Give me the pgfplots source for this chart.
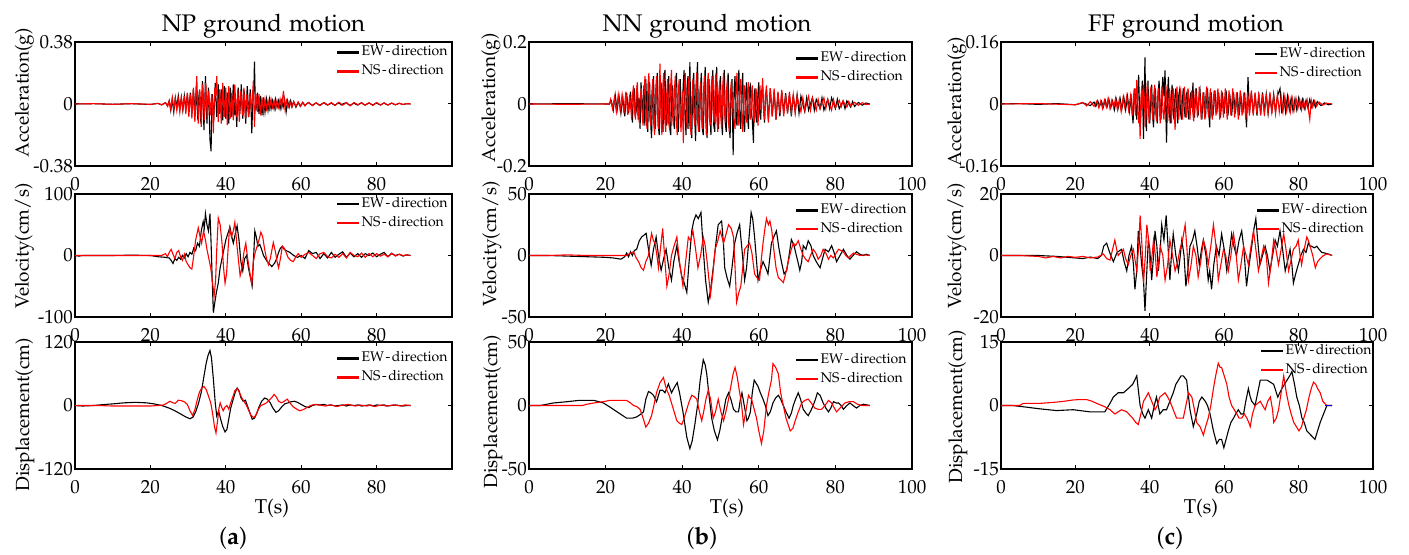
\documentclass[border=0pt]{standalone}
\usepackage[T1]{fontenc}
\usepackage[sc]{mathpazo}
\usepackage{pgfplots}
\pgfplotsset{compat=1.18}
\begin{document}
\begin{tikzpicture}
\useasboundingbox (0,0) rectangle (704.5pt,277.5pt);
\pgfplotsset{
  gm/.style={scale only axis, anchor=south west, xmin=0, xmax=100,
    axis line style={line width=0.6pt}, tick align=inside, major tick length=2.2pt,
    tick style={black, line width=0.5pt},
    ticklabel style={font=\fontsize{9.5}{11}\selectfont},
    xtick={0,20,40,60,80,100}, xticklabels={0,20,40,60,80,100},
    xticklabel style={yshift=-2.3pt}, yticklabel style={xshift=2.5pt},
    legend cell align=left,
    legend style={draw=none, fill=none, at={(rel axis cs:1,1)}, anchor=north east,
      font=\fontsize{7}{8}\selectfont, inner xsep=0pt, inner ysep=1pt, row sep=1.6pt,
      nodes={inner sep=0.6pt, text height=5pt, text depth=1.6pt}},
    legend image code/.code={\draw[##1, line width=1.2pt] (0pt,0pt) -- (11pt,0pt);},
    every axis plot/.append style={line width=0.55pt, mark=none}},
  cola/.style={gm, xtick={0,20,40,60,80}, xticklabels={0,20,40,60,80}, width=188.5pt, at={(37.5pt,#1)}},
  colb/.style={gm, width=191.5pt, at={(264.5pt,#1)}},
  colc/.style={gm, width=186pt, at={(500.5pt,#1)}},
  r1/.style={height=62pt}, r2/.style={height=61.5pt}, r3/.style={height=63.5pt},
  leg/.style 2 args={legend style={xshift=#1, yshift=#2}},
}
\def\EW{EW{\kern0.8pt}-{\kern0.8pt}direction}
\def\NS{NS{\kern0.8pt}-{\kern0.8pt}direction}
% ================= column a =================
\begin{axis}[cola=194.5pt, r1, ymin=-0.38, ymax=0.38, ytick={-0.38,0,0.38}, yticklabels={-0.38,0,0.38}, leg={-1.5pt}{-0.2pt}]
\addplot[black] coordinates {(0,0) (5,0.002) (10,-0.002) (15,0.002) (20,-0.003) (22,0.004) (23,-0.006) (24,0.008) (24.5,-0.01) (25,0.02) (25.4,-0.04) (25.8,0.03) (26.2,-0.05) (26.6,0.04) (27,-0.02) (27.4,0.05) (27.8,-0.03) (28.2,0.04) (28.6,-0.04) (29,0.05) (29.4,-0.03) (29.8,0.06) (30.2,-0.05) (30.4,0.01) (30.6,0.07) (30.8,0.02) (31,-0.06) (31.2,-0.01) (31.4,0.09) (31.6,0.03) (31.8,-0.08) (32,0.01) (32.2,0.12) (32.4,-0.02) (32.6,-0.10) (32.8,0.03) (33,0.08) (33.2,-0.03) (33.4,-0.12) (33.6,0.02) (33.8,0.14) (34,0.03) (34.2,-0.16) (34.4,-0.02) (34.6,0.17) (34.8,0.02) (35,-0.12) (35.2,0.01) (35.4,0.10) (35.6,-0.05) (35.8,-0.22) (36.1,-0.29) (36.25,-0.05) (36.4,0.06) (36.6,-0.02) (36.8,-0.10) (37,0.02) (37.2,0.13) (37.4,0.03) (37.6,-0.08) (37.8,0.01) (38,0.12) (38.2,-0.01) (38.4,-0.06) (38.6,0.02) (38.8,0.09) (39,-0.02) (39.2,-0.10) (39.4,0.01) (39.6,0.11) (39.8,0.02) (40,-0.09) (40.2,-0.02) (40.4,0.07) (40.6,-0.01) (40.8,-0.12) (41,0.02) (41.2,0.10) (41.4,0.01) (41.6,-0.08) (41.8,0.02) (42,0.12) (42.2,0.02) (42.4,-0.07) (42.65,0.02) (42.9,-0.14) (43.1,-0.01) (43.3,0.10) (43.5,0.02) (43.7,-0.06) (43.9,0.01) (44.1,0.12) (44.3,0.01) (44.5,-0.09) (44.7,-0.01) (44.9,0.08) (45.1,-0.02) (45.3,-0.12) (45.5,0.02) (45.7,0.11) (45.9,0.01) (46.1,-0.08) (46.3,0.01) (46.5,0.09) (46.7,-0.03) (46.9,-0.18) (47.1,-0.02) (47.3,0.05) (47.45,0.10) (47.6,0.26) (47.8,0.03) (48,-0.04) (48.4,0.07) (48.8,-0.06) (49.2,0.05) (49.6,-0.07) (50,0.04) (50.4,-0.05) (50.8,0.03) (51.2,-0.04) (51.6,0.03) (52,-0.03) (52.4,0.02) (52.8,-0.03) (53.2,0.03) (53.6,-0.02) (54,0.02) (54.4,-0.03) (54.8,0.02) (55.2,-0.02) (55.6,0.03) (56,-0.05) (56.4,0.02) (56.8,-0.02) (57.2,0.02) (57.6,-0.015) (58,0.015) (58.6,-0.02) (59.2,0.01) (59.8,-0.015) (60.4,0.01) (61,-0.01) (61.6,0.004) (62,0.008) (62.5,-0.003) (63,-0.008) (63.6,0.002) (64,0.006) (64.7,-0.004) (65,-0.007) (65.6,0.003) (66,0.008) (66.6,-0.002) (67,-0.006) (68,0.005) (68.5,-0.002) (69,-0.008) (69.6,0.004) (70,0.006) (70.7,-0.006) (71.2,0.002) (72,0.008) (72.6,-0.004) (73,-0.008) (74,0.006) (74.5,-0.002) (75,-0.006) (76,0.008) (76.6,-0.003) (77,-0.006) (78,0.006) (79,-0.006) (79.6,0.002) (80,0.005) (81,-0.006) (82,0.006) (82.5,-0.002) (83,-0.005) (84,0.005) (85,-0.005) (86,0.004) (87,-0.003) (88,0.002) (89,0)};
\addplot[red] coordinates {(0,0) (5,0.002) (10,-0.002) (15,0.002) (20,-0.002) (22,0.003) (23,-0.004) (24,0.008) (24.6,-0.015) (25,0.02) (25.4,-0.03) (25.8,0.04) (26.2,-0.03) (26.6,0.03) (27,-0.04) (27.4,0.03) (27.8,-0.05) (28.2,0.04) (28.6,-0.03) (29,0.05) (29.4,-0.06) (29.8,0.07) (30,0.01) (30.2,-0.08) (30.4,-0.01) (30.6,0.06) (30.8,0.01) (31,-0.09) (31.2,0.02) (31.4,0.10) (31.6,-0.02) (31.8,-0.11) (32.05,0.03) (32.3,0.17) (32.5,0.02) (32.7,-0.12) (32.9,-0.01) (33.1,0.09) (33.3,0.01) (33.5,-0.14) (33.7,-0.02) (33.9,0.12) (34.1,0.01) (34.3,-0.10) (34.5,0.02) (34.7,0.13) (34.9,0.01) (35.1,-0.09) (35.3,0.01) (35.5,0.08) (35.7,-0.01) (35.9,-0.07) (36.1,0.02) (36.3,0.06) (36.5,-0.03) (36.7,-0.18) (36.9,-0.02) (37.1,0.10) (37.35,0.05) (37.6,0.17) (37.8,0.02) (38,-0.11) (38.2,0.01) (38.4,0.09) (38.6,-0.01) (38.8,-0.12) (39,0.02) (39.2,0.13) (39.4,0.01) (39.6,-0.08) (39.8,0.02) (40,0.10) (40.2,-0.02) (40.4,-0.13) (40.6,0.01) (40.8,0.11) (41,0.02) (41.2,-0.09) (41.4,-0.01) (41.6,0.07) (41.8,-0.02) (42,-0.10) (42.2,0.03) (42.4,0.12) (42.6,0.01) (42.8,-0.08) (43,0.01) (43.2,0.09) (43.4,-0.02) (43.6,-0.11) (43.8,0.01) (44,0.08) (44.2,0.01) (44.4,-0.07) (44.6,0.02) (44.8,0.10) (45,-0.01) (45.2,-0.09) (45.4,0.01) (45.6,0.06) (45.8,-0.02) (46,-0.08) (46.2,0.01) (46.4,0.07) (46.6,0.01) (46.8,-0.05) (47.05,0.04) (47.3,0.14) (47.45,0.01) (47.6,-0.14) (47.8,-0.02) (48,0.06) (48.4,-0.05) (48.8,0.06) (49.2,-0.07) (49.6,0.04) (50,-0.05) (50.4,0.03) (50.8,-0.03) (51.2,0.02) (51.6,-0.03) (52,0.03) (52.4,-0.02) (52.8,0.02) (53.2,-0.03) (53.6,0.02) (54,-0.02) (54.4,0.03) (54.8,-0.02) (55.3,0.08) (55.7,-0.03) (56.1,0.02) (56.5,-0.02) (57,0.015) (57.5,-0.02) (58,0.015) (58.6,-0.015) (59.2,0.012) (59.8,-0.012) (60.4,0.01) (61,-0.012) (61.5,0.003) (62,0.01) (62.6,-0.003) (63,-0.01) (64,0.008) (64.5,-0.002) (65,-0.01) (66,0.008) (66.6,0.002) (67,-0.007) (68,0.009) (68.6,-0.002) (69,-0.009) (70,0.011) (70.5,0.002) (71,-0.007) (72,0.008) (72.5,-0.002) (73,-0.011) (74,0.009) (74.6,0.002) (75,-0.006) (76,0.008) (77,-0.008) (77.5,0.002) (78,0.007) (79,-0.009) (80,0.009) (80.5,0.001) (81,-0.006) (82,0.007) (83,-0.007) (84,0.006) (85,-0.005) (86,0.005) (87,-0.003) (88,0.002) (89,0)};
\legend{\EW,\NS}
\end{axis}
\begin{axis}[cola=119pt, r2, ymin=-100, ymax=100, ytick={-100,0,100}, yticklabels={-100,0,100}, leg={-1.5pt}{0pt}]
\addplot[black] coordinates {(0,0) (1,-1) (2,0) (5,0) (10,0) (15,0.5) (20,0) (22,-2) (24,-3) (25,-4) (25.5,-8) (26,-13) (26.5,-5) (27,-8) (27.5,-3) (28,-6) (28.5,0) (29,-4) (29.5,3) (30,-2) (30.5,5) (31,2) (31.5,12) (32,8) (32.5,20) (33,15) (33.5,40) (34,55) (34.3,45) (34.6,68) (35,50) (35.4,40) (35.8,68) (36.1,20) (36.4,-40) (36.7,-93) (37,-80) (37.5,-60) (38,-45) (38.5,-20) (39,-5) (39.5,10) (40,25) (40.5,35) (41.1,46) (41.6,30) (42,20) (42.5,35) (43,48) (43.5,25) (44,-10) (44.5,-25) (45,-5) (45.5,0) (46,-20) (46.5,-35) (47,-49) (47.4,0) (47.7,40) (48.1,30) (48.5,15) (49,18) (49.5,10) (50,0) (50.5,-5) (51,-10) (51.6,-14) (52.2,-18) (53,-12) (53.5,-5) (54,5) (54.5,12) (55,15) (55.5,10) (56,8) (57,5) (58,0) (59,-3) (60,0) (61,-5) (62,8) (63,3) (64,5) (65,-5) (66,3) (67,-4) (68,5) (69,-3) (70,2) (71,6) (72,-3) (73,4) (74,-2) (75,3) (76,-3) (77,3) (78,0) (79,4) (80,-2) (81,2) (82,5) (83,-2) (84,3) (85,0) (86,2) (87,-1) (88,1) (89,0)};
\addplot[red] coordinates {(0,0) (5,0) (10,0) (15,0) (20,0) (23,0) (24,3) (24.5,-2) (25,5) (25.5,10) (26,2) (26.5,-5) (27,5) (27.5,8) (28,-2) (28.5,-8) (29,2) (29.5,-10) (30,-15) (30.5,-20) (31,-22) (31.5,0) (32,25) (32.7,45) (33.2,30) (33.6,20) (34.1,40) (34.6,25) (35,10) (35.5,-5) (36,-20) (36.5,-45) (36.9,-66) (37.3,-40) (37.6,10) (38,61) (38.5,50) (39,20) (39.4,-20) (39.8,-45) (40.2,-30) (40.6,10) (41,45) (41.5,30) (42,40) (42.4,54) (42.9,20) (43.4,-10) (43.8,-33) (44.3,-20) (44.8,5) (45.3,20) (45.8,-5) (46.3,-25) (46.9,-47) (47.3,-10) (47.8,5) (48.3,15) (48.8,25) (49.3,38) (49.8,30) (50.3,10) (50.8,-5) (51.3,-15) (51.8,-5) (52.6,21) (53.2,5) (53.6,-10) (54,-20) (54.5,-5) (55,15) (55.5,12) (56,5) (56.5,-3) (57.2,-8) (57.9,-10) (58.5,-3) (59.2,3) (60,-3) (61,2) (62,5) (63,0) (64,-5) (65,3) (66,5) (67,-2) (68,-4) (69,2) (70,-3) (71,3) (72,-4) (73,5) (74,0) (75,-2) (76,4) (77,-3) (78,3) (79,-2) (80,3) (81,-1) (82,2) (83,-2) (84,4) (85,-1) (86,2) (87,0) (88,1) (89,0)};
\legend{\EW,\NS}
\end{axis}
\begin{axis}[cola=43pt, r3, ymin=-120, ymax=120, ytick={-120,0,120}, yticklabels={-120,0,120}, leg={-1.5pt}{-3.2pt}]
\addplot[black] coordinates {(0,0) (2,-1) (5,0) (8,2) (10,3) (13,5) (16,6) (19,5) (21,3) (23,0) (25,-5) (26.5,-10) (28,-16) (29.5,-22) (30.5,-25) (31.3,-22) (32,-12) (32.8,5) (33.5,25) (34.2,55) (34.8,80) (35.3,95) (35.8,104) (36.2,90) (36.7,50) (37.2,5) (37.6,-20) (38.1,-10) (38.6,-25) (39.2,-40) (39.8,-50) (40.3,-45) (40.8,-25) (41.3,-5) (41.9,10) (42.5,25) (43,33) (43.5,28) (44,15) (44.6,8) (45.2,10) (45.7,0) (46.3,-12) (47,-26) (47.6,-24) (48.2,-15) (48.8,-3) (49.5,8) (50.3,14) (51,12) (51.8,5) (52.5,-5) (53.3,-13) (54,-10) (54.8,-3) (55.6,3) (56.5,5) (57.3,7) (58.2,8) (59,6) (60,2) (61,-2) (62,-4) (63,0) (64,2) (65,1) (66,2) (67,0) (68,1) (69,-1) (70,0) (71,1) (72,-1) (73,1) (74,0) (75,1) (76,-1) (77,0) (78,1) (79,-1) (80,1) (81,0) (82,1) (83,-1) (84,0) (85,1) (86,0) (87,-1) (88,0) (89,0)};
\addplot[red] coordinates {(0,0) (3,0) (6,0) (10,-1) (15,-1) (20,-1) (22,0) (23.5,1) (24.3,4) (25.2,8) (26,5) (26.6,4) (27.4,10) (28.2,9) (29,7) (29.8,2) (30.5,-10) (31.2,-19) (31.8,-8) (32.4,10) (33,25) (33.6,33) (34.2,36) (34.8,30) (35.4,18) (36,5) (36.5,-15) (37,-40) (37.4,-52) (37.8,-30) (38.2,-5) (38.5,5) (38.9,-3) (39.3,-10) (39.8,-3) (40.3,0) (40.8,-7) (41.3,5) (41.8,15) (42.4,28) (43,32) (43.6,25) (44.2,15) (44.8,8) (45.5,0) (46,-8) (46.6,-18) (47.4,-23) (48,-18) (48.6,-8) (49.3,0) (50,2) (50.8,5) (51.5,10) (52.2,15) (52.8,21) (53.4,16) (54,8) (54.8,5) (55.5,8) (56.3,12) (57,5) (57.8,-2) (58.6,-6) (59.6,-10) (60.5,-8) (61.5,-4) (62.5,0) (63.5,2) (64.5,1) (65.5,0) (66.5,-1) (67.5,1) (68.5,0) (69.5,-2) (70.5,0) (71.5,1) (72.5,2) (73.5,0) (74.5,-1) (75.5,1) (76.5,0) (77.5,-1) (78.5,1) (79.5,-2) (80.5,0) (81.5,1) (82.5,-1) (83.5,0) (84.5,1) (85.5,0) (86.5,-1) (87.5,1) (89,0)};
\legend{\EW,\NS}
\end{axis}
% ================= column b =================
\begin{axis}[colb=194.5pt, r1, ymin=-0.2, ymax=0.2, ytick={-0.2,0,0.2}, yticklabels={-0.2,0,0.2}, leg={-2pt}{-3.2pt}]
\addplot[black] coordinates {(0,0) (10,0.001) (21,0) (21.5,0.01) (22,-0.02) (22.5,0.03) (23,-0.02) (23.5,0.025) (24,-0.03) (24.5,0.02) (25,-0.04) (25.5,0.035) (26,-0.03) (26.5,0.04) (27,-0.06) (27.25,0.03) (27.5,0.05) (27.75,-0.04) (28,-0.02) (28.25,0.06) (28.5,-0.05) (28.75,0.02) (29,-0.08) (29.25,0.07) (29.5,0.01) (29.75,-0.05) (30,0.06) (30.25,-0.07) (30.5,0.08) (30.75,-0.02) (31,-0.09) (31.25,0.05) (31.5,0.07) (31.75,-0.06) (32,-0.11) (32.25,0.04) (32.5,0.09) (32.75,-0.03) (33,-0.08) (33.25,0.06) (33.5,0.10) (33.75,-0.07) (34,-0.10) (34.25,0.03) (34.5,0.07) (34.75,-0.05) (35,-0.09) (35.25,0.08) (35.5,0.11) (35.75,-0.04) (36,-0.07) (36.25,0.05) (36.5,0.09) (36.75,-0.08) (37,-0.10) (37.25,0.02) (37.5,0.06) (37.75,-0.06) (38,-0.08) (38.25,0.07) (38.5,0.10) (38.75,-0.03) (39,-0.09) (39.25,0.04) (39.5,0.08) (39.75,-0.07) (40,-0.05) (40.25,0.06) (40.5,0.11) (40.75,-0.04) (41,-0.10) (41.25,0.05) (41.5,0.09) (41.75,-0.08) (42,0.135) (42.25,-0.05) (42.5,-0.11) (42.75,0.06) (43,0.10) (43.25,-0.04) (43.5,-0.12) (43.75,0.07) (44,0.135) (44.25,-0.06) (44.5,-0.09) (44.75,0.05) (45,0.10) (45.25,-0.08) (45.5,-0.10) (45.75,0.04) (46,0.12) (46.25,-0.05) (46.5,-0.11) (46.75,0.06) (47,0.08) (47.25,-0.03) (47.5,-0.10) (47.75,0.05) (48,0.11) (48.25,-0.07) (48.5,-0.09) (48.75,0.04) (49,0.12) (49.25,-0.05) (49.5,-0.08) (49.75,0.06) (50,0.09) (50.25,-0.04) (50.5,-0.10) (50.75,0.07) (51,0.11) (51.25,-0.06) (51.5,-0.09) (51.75,0.05) (52,0.10) (52.25,-0.07) (52.5,-0.11) (52.75,0.04) (53,0.08) (53.3,-0.165) (53.55,0.05) (53.8,0.09) (54.05,-0.04) (54.3,-0.07) (54.55,0.06) (54.8,0.11) (55.05,-0.05) (55.3,-0.08) (55.55,0.04) (55.8,0.10) (56.05,-0.06) (56.3,-0.09) (56.55,0.03) (56.8,0.07) (57.05,-0.04) (57.3,-0.08) (57.55,0.05) (57.8,0.06) (58.05,-0.03) (58.3,-0.05) (58.6,-0.125) (58.8,0.03) (59,0.05) (59.25,-0.04) (59.5,-0.06) (59.75,0.03) (60,0.07) (60.25,-0.03) (60.5,-0.05) (60.75,0.04) (61,0.06) (61.25,-0.02) (61.5,-0.06) (61.75,0.03) (62,0.04) (62.5,-0.05) (63,0.05) (63.5,-0.04) (64,0.04) (64.5,-0.05) (65,0.035) (65.5,-0.04) (66,0.04) (66.5,-0.03) (67,0.035) (67.5,-0.03) (68,0.03) (68.5,-0.04) (69,0.03) (69.5,-0.025) (70,0.03) (70.5,-0.03) (71,0.025) (72,-0.025) (72.5,0.02) (73,-0.02) (74,0.02) (74.5,-0.02) (75,0.015) (76,-0.015) (76.5,0.02) (77,-0.02) (78,0.015) (78.5,-0.015) (79,0.02) (80,-0.015) (80.5,0.015) (81,-0.015) (82,0.01) (82.5,-0.015) (83,0.01) (84,-0.01) (84.5,0.008) (85,-0.008) (86,0.005) (87,-0.004) (88,0.003) (89,0)};
\addplot[red] coordinates {(0,0) (10,-0.001) (21,0) (21.3,0.015) (21.8,-0.015) (22.3,0.02) (22.8,-0.025) (23.3,0.03) (23.8,-0.02) (24.3,0.03) (24.8,-0.03) (25.3,0.04) (25.8,-0.035) (26.3,0.03) (26.8,-0.05) (27,0.03) (27.3,0.06) (27.55,-0.02) (27.8,-0.05) (28.05,0.04) (28.3,0.07) (28.55,-0.03) (28.8,-0.06) (29.05,0.02) (29.3,0.05) (29.55,-0.04) (29.8,-0.07) (30.05,0.05) (30.3,0.09) (30.55,-0.03) (30.8,-0.08) (31.05,0.06) (31.3,0.10) (31.55,-0.05) (31.8,-0.07) (32.05,0.03) (32.3,0.08) (32.55,-0.06) (32.8,-0.10) (33.05,0.04) (33.3,0.09) (33.55,-0.03) (33.8,-0.08) (34.0,0.05) (34.2,0.13) (34.45,-0.04) (34.7,-0.10) (34.95,0.06) (35.2,0.10) (35.45,-0.05) (35.7,-0.09) (35.95,0.03) (36.2,0.08) (36.45,-0.06) (36.7,-0.08) (36.95,0.05) (37.2,0.11) (37.45,-0.03) (37.7,-0.07) (37.95,0.04) (38.2,0.09) (38.45,-0.05) (38.7,-0.10) (38.95,0.03) (39.2,0.08) (39.45,-0.04) (39.7,-0.09) (40.0,0.04) (40.3,-0.126) (40.55,0.05) (40.8,0.10) (41.05,-0.03) (41.3,-0.08) (41.55,0.06) (41.8,0.09) (42.05,-0.05) (42.3,-0.10) (42.55,0.02) (42.8,0.08) (43.05,-0.04) (43.3,-0.07) (43.55,0.05) (43.8,0.10) (44.05,-0.06) (44.3,-0.09) (44.55,0.03) (44.8,0.07) (45.05,-0.05) (45.3,-0.08) (45.55,0.04) (45.8,0.09) (46.05,-0.03) (46.3,-0.10) (46.55,0.06) (46.8,0.10) (47.05,-0.04) (47.3,-0.07) (47.55,0.05) (47.8,0.09) (48.05,-0.02) (48.3,-0.06) (48.55,0.04) (48.8,0.10) (49.05,-0.05) (49.3,-0.09) (49.55,0.03) (49.8,0.07) (50.05,-0.04) (50.3,-0.08) (50.55,0.05) (50.8,0.10) (51.05,-0.03) (51.3,-0.06) (51.55,0.04) (51.8,0.08) (52.05,-0.05) (52.3,-0.09) (52.55,0.03) (52.8,0.07) (53.3,-0.03) (53.8,-0.08) (54.05,0.04) (54.3,0.10) (54.55,-0.03) (54.8,-0.07) (55.05,0.05) (55.3,0.08) (55.55,-0.04) (55.8,-0.09) (56.05,0.02) (56.3,0.06) (56.55,-0.03) (56.8,-0.06) (57.05,0.04) (57.3,0.07) (57.55,-0.02) (57.8,-0.05) (58.05,0.03) (58.3,0.06) (58.55,-0.04) (58.8,-0.06) (59.05,0.02) (59.3,0.05) (59.55,-0.03) (59.8,-0.07) (60.05,0.02) (60.3,0.06) (60.6,-0.02) (61,0.083) (61.25,-0.02) (61.5,-0.05) (61.75,0.03) (62,0.06) (62.5,-0.06) (63,0.05) (63.5,-0.04) (64,0.05) (64.5,-0.05) (65,0.04) (65.5,-0.03) (66,0.045) (66.5,-0.04) (67,0.03) (67.5,-0.03) (68,0.04) (68.5,-0.025) (69,0.03) (69.5,-0.03) (70,0.025) (71,-0.025) (71.5,0.02) (72,-0.02) (73,0.025) (73.5,-0.02) (74,0.02) (75,-0.02) (75.5,0.015) (76,-0.015) (77,0.02) (77.5,-0.015) (78,0.015) (79,-0.02) (79.5,0.015) (80,-0.012) (81,0.012) (81.5,-0.01) (82,0.01) (83,-0.01) (83.5,0.008) (84,-0.006) (85,0.005) (86,-0.004) (87,0.004) (88,-0.002) (89,0)};
\legend{\EW,\NS}
\end{axis}
\begin{axis}[colb=119pt, r2, ymin=-50, ymax=50, ytick={-50,0,50}, yticklabels={-50,0,50}, leg={-2pt}{-3.1pt}]
\addplot[black] coordinates {(0,0) (5,0) (10,-0.5) (15,-1) (20,-1.5) (22,-2) (24,-3) (25,-1) (25.5,2) (26,-1) (26.5,3) (27,0) (27.5,4) (28.1,5) (28.8,12) (29.4,15) (30.6,18) (31.2,5) (31.9,-8) (32.5,5) (33.2,15) (33.8,0) (34.5,-12) (35.2,-2) (35.8,5) (36.5,-10) (37.2,-20) (37.8,-5) (38.6,8) (39.2,-5) (39.9,-17) (40.5,-22) (41.2,-30) (41.8,-5) (42.5,20) (43,28) (43.6,33) (44.2,30) (44.9,35) (45.5,5) (46.1,-20) (46.8,-38) (47.4,-28) (48.1,-10) (48.8,10) (49.4,25) (50.3,28) (50.8,8) (51.1,-10) (51.7,-18) (52.4,-25) (53,-10) (53.7,10) (54.3,18) (55,25) (55.6,5) (56.3,-20) (56.8,-10) (57.2,5) (57.6,20) (58,35) (58.4,30) (58.9,15) (59.3,0) (59.8,-20) (60.4,-12) (61.1,-5) (61.8,-10) (62.4,-15) (63.3,10) (63.9,15) (64.6,20) (65.3,5) (65.9,-5) (66.6,-15) (67.3,-12) (67.9,0) (68.5,13) (69.2,8) (69.8,0) (70.2,-5) (70.7,-12) (71.2,-5) (71.6,8) (72.3,5) (72.9,12) (73.6,8) (74.2,0) (75,-5) (76,-10) (76.6,-3) (77.3,5) (78.2,3) (79,8) (79.6,3) (80.3,-5) (81.2,0) (82.1,5) (83,0) (83.8,-3) (84.6,0) (85.5,3) (86.4,1) (87.3,0) (88,1) (89,0)};
\addplot[red] coordinates {(0,0) (5,0) (10,0.5) (15,0) (20,0) (24,0) (25.5,0) (26.5,2) (27.3,3) (28,-2) (28.6,-5) (29.3,-10) (29.9,-12) (30.5,-5) (31.2,0) (31.6,10) (32,18) (32.5,12) (32.9,10) (33.4,0) (33.8,-10) (34.3,5) (34.9,22) (35.5,-5) (36,-25) (36.6,-15) (37.2,0) (37.9,8) (38.6,15) (39.3,-5) (40.2,-25) (40.9,-5) (41.6,15) (42.2,12) (42.8,20) (43.5,5) (44.1,-10) (44.8,0) (45.5,15) (46,8) (46.5,-5) (47,-20) (47.4,-32) (48,-15) (48.6,5) (49.3,12) (49.9,20) (50.4,15) (50.8,10) (51.5,18) (52.1,25) (52.8,22) (53.4,15) (53.8,-10) (54.2,-38) (54.8,-30) (55.3,-25) (55.8,-10) (56.3,5) (57,8) (57.6,10) (58.2,2) (58.9,-15) (59.5,-18) (60.2,-20) (60.6,-5) (61.1,10) (61.6,22) (62,30) (62.5,25) (62.9,28) (63.4,20) (63.9,5) (64.5,-10) (65.1,-18) (65.8,-20) (66.4,-22) (67,-15) (67.7,-5) (68.3,3) (69,10) (69.6,8) (70.3,12) (71,5) (71.6,0) (72.2,-3) (72.9,-5) (73.5,0) (74.2,5) (74.9,2) (75.5,-3) (76.2,0) (76.8,5) (77.5,2) (78.2,-3) (78.8,0) (79.5,-2) (80.2,2) (80.8,5) (81.5,4) (82.1,3) (82.7,0) (83.4,-2) (84,0) (84.7,2) (85.5,1) (86.4,0) (87.5,0.5) (89,0)};
\legend{\EW,\NS}
\end{axis}
\begin{axis}[colb=43pt, r3, ymin=-50, ymax=50, ytick={-50,0,50}, yticklabels={-50,0,50}, leg={-2pt}{-3.9pt}]
\addplot[black] coordinates {(0,0) (3,0) (6.4,2) (10,3) (13,4) (15.1,4) (17,4) (19.4,2) (21,-1) (22,-3) (24,-7) (25.5,-10) (27,-10) (28.1,-9) (29.1,-7) (29.9,-5) (30.5,5) (31.2,11) (31.8,10) (32.5,8) (33.3,3) (33.8,8) (34.2,12) (34.9,12) (35.5,10) (36.4,17) (37.2,10) (37.9,14) (38.7,18) (39.3,10) (40.2,-5) (40.7,-15) (41.2,-25) (42,-34) (42.6,-28) (43.3,-15) (44,0) (44.7,20) (45.2,30) (45.5,36) (46,32) (46.4,25) (47,8) (47.7,-10) (48.4,-20) (49.2,-27) (49.8,-20) (50.4,-10) (50.8,-5) (51.4,5) (52.1,10) (52.7,5) (53.4,-3) (54,-5) (54.7,-5) (55.2,5) (55.6,10) (56.2,0) (56.9,-12) (57.3,-10) (57.8,-5) (58.3,10) (58.8,20) (59.2,18) (59.8,15) (60.4,10) (61.1,5) (61.7,0) (62.4,-8) (63,-5) (63.7,2) (64.4,6) (65.1,8) (65.7,5) (66.4,0) (67.1,-5) (67.9,-10) (68.5,-6) (69,0) (69.6,5) (70.3,10) (70.9,5) (71.6,-3) (72.3,-6) (72.9,-8) (73.6,-4) (74.2,0) (74.8,5) (75.3,10) (76,8) (76.8,2) (77.5,-2) (78.2,-5) (78.8,-2) (79.5,3) (80.2,2) (80.8,2) (81.5,0) (82.1,-3) (83,0) (83.8,2) (84.6,0) (85.5,-2) (86.4,0) (87.3,1) (89,0)};
\addplot[red] coordinates {(0,0) (5,0) (10,0) (14,0) (15.1,1) (17,2) (19.4,3) (21,4) (23.7,4) (25.5,4) (26.5,2) (27.3,0) (28.2,-1) (29,-3) (29.8,-10) (30.5,-17) (31.2,-14) (32,-8) (32.6,0) (33.3,10) (34.2,18) (35.1,22) (35.6,16) (36,12) (36.6,8) (37.2,2) (37.9,-5) (38.6,-12) (39.3,-14) (39.9,-15) (40.5,-10) (41.2,-3) (41.8,3) (42.5,8) (43.1,7) (43.8,5) (44.5,-5) (45.1,-12) (45.6,-5) (46.2,5) (46.8,12) (47.4,5) (48.1,-10) (48.7,-5) (49.4,5) (50.1,-5) (50.8,-12) (51.4,-5) (52.1,5) (52.7,15) (53.3,25) (53.8,30) (54.4,22) (54.9,12) (55.3,5) (55.7,-5) (56,-15) (56.6,-5) (57.3,8) (57.7,6) (58.1,5) (58.8,-3) (59.4,-10) (60,-20) (60.7,-30) (61.3,-20) (62,0) (62.6,10) (63.3,20) (63.7,33) (64.4,30) (65.1,25) (65.7,10) (66.4,0) (67.1,-10) (68.2,-20) (68.9,-18) (69.5,-12) (70.3,-5) (71.2,2) (72,4) (72.9,5) (73.7,2) (74.6,-2) (75.5,-3) (76.4,-3) (77.3,0) (78.2,4) (79,2) (79.9,-3) (80.3,-5) (81.2,-2) (82.5,2) (83.6,3) (84.7,3) (85.8,1) (86.9,0) (89,0)};
\legend{\EW,\NS}
\end{axis}
% ================= column c =================
\begin{axis}[colc=194.5pt, r1, ymin=-0.16, ymax=0.16, ytick={-0.16,0,0.16}, yticklabels={-0.16,0,0.16}, leg={-3pt}{-0.9pt}]
\addplot[black] coordinates {(0,0) (5,0.001) (10,-0.001) (15,0.001) (20,-0.002) (22,0.003) (24,-0.004) (25,0.005) (25.5,-0.006) (26,0.008) (26.5,-0.005) (27,0.007) (27.5,-0.008) (28,0.01) (28.5,-0.008) (29,0.012) (29.5,-0.01) (30,0.008) (30.5,-0.015) (31,0.012) (31.5,-0.01) (32,0.015) (32.5,-0.012) (33,0.018) (33.5,-0.015) (34,0.02) (34.5,-0.02) (35,0.015) (35.25,-0.02) (35.5,-0.05) (35.75,0.02) (36,0.04) (36.25,-0.01) (36.5,-0.04) (36.75,0.03) (37,0.075) (37.25,-0.02) (37.5,-0.05) (37.75,0.02) (38,0.06) (38.3,-0.09) (38.5,0.02) (38.7,0.12) (38.9,-0.02) (39.1,-0.07) (39.3,0.02) (39.5,0.06) (39.75,-0.02) (40,-0.05) (40.25,0.02) (40.5,0.05) (40.75,-0.03) (41,-0.06) (41.25,0.01) (41.5,0.04) (41.75,-0.02) (42,-0.05) (42.25,0.03) (42.5,0.06) (42.75,-0.01) (43,-0.04) (43.25,0.03) (43.5,0.07) (43.8,0.02) (44.1,0.087) (44.3,-0.02) (44.5,-0.10) (44.75,0.02) (45,0.07) (45.25,-0.02) (45.5,-0.05) (45.75,0.01) (46,0.05) (46.25,-0.02) (46.5,-0.04) (46.75,0.02) (47,0.04) (47.25,-0.01) (47.5,-0.05) (47.75,0.02) (48,0.035) (48.25,-0.02) (48.5,-0.04) (48.75,0.01) (49,0.04) (49.25,-0.01) (49.5,-0.035) (49.75,0.02) (50,0.03) (50.25,-0.02) (50.5,-0.04) (50.75,0.01) (51,0.03) (51.3,-0.01) (51.6,0.055) (51.8,-0.01) (52,-0.035) (52.25,0.01) (52.5,0.04) (52.75,-0.01) (53,-0.03) (53.25,0.02) (53.5,0.035) (53.75,-0.01) (54,-0.04) (54.25,0.01) (54.5,0.03) (54.75,-0.02) (55,-0.03) (55.25,0.02) (55.5,0.04) (55.8,-0.01) (56.1,-0.06) (56.3,0.01) (56.5,0.03) (56.75,-0.01) (57,-0.03) (57.5,0.035) (58,-0.025) (58.5,0.03) (59,-0.035) (59.5,0.03) (60,-0.025) (60.5,0.035) (61,-0.03) (61.5,0.025) (62,-0.03) (62.5,0.03) (63,-0.025) (63.5,0.03) (64,-0.03) (64.5,0.02) (65,-0.025) (65.5,0.03) (66,-0.06) (66.4,0.069) (66.8,-0.02) (67.3,0.03) (67.8,-0.025) (68.3,0.025) (68.8,-0.03) (69.3,0.02) (69.8,-0.025) (70.3,0.03) (70.8,-0.02) (71.3,0.025) (71.8,-0.025) (72.3,0.02) (72.8,-0.02) (73.3,0.025) (73.8,-0.02) (74.3,0.02) (75,0.04) (75.5,-0.025) (76,0.02) (76.5,-0.02) (77,0.02) (77.5,-0.015) (78,0.015) (78.5,-0.018) (79,0.012) (79.5,-0.015) (80,0.015) (80.5,-0.01) (81,0.012) (81.5,-0.012) (82,0.01) (82.5,-0.01) (83,0.012) (83.5,-0.008) (84,0.008) (84.5,-0.008) (85,0.006) (86,-0.004) (87,0.003) (88,-0.002) (89,0)};
\addplot[red] coordinates {(0,0) (10,0.001) (20,-0.002) (22,0.004) (23,-0.005) (24,0.006) (25,-0.006) (25.8,0.008) (26.3,-0.01) (26.8,0.008) (27.3,-0.012) (27.8,0.01) (28.3,-0.008) (28.8,0.015) (29.3,-0.012) (29.8,0.01) (30.3,-0.01) (30.8,0.015) (31.3,-0.015) (31.8,0.012) (32.3,-0.02) (32.8,0.015) (33.3,-0.01) (33.8,0.02) (34.3,-0.015) (34.8,0.02) (35.3,-0.03) (35.55,0.01) (35.8,0.04) (36.0,-0.01) (36.2,-0.03) (36.5,0.062) (36.75,0.01) (37,-0.05) (37.2,-0.02) (37.4,-0.09) (37.6,0.01) (37.8,0.04) (38.05,-0.01) (38.3,0.05) (38.55,0.01) (38.8,-0.06) (39.05,-0.01) (39.3,0.055) (39.55,0.01) (39.8,-0.05) (40.05,0.01) (40.3,0.045) (40.55,-0.01) (40.8,-0.04) (41.05,0.02) (41.3,0.05) (41.55,-0.02) (41.8,-0.045) (42.05,0.01) (42.3,0.04) (42.55,-0.01) (42.8,-0.05) (43.05,0.02) (43.3,0.045) (43.55,-0.02) (43.8,-0.04) (44.05,0.01) (44.3,0.05) (44.55,0.01) (44.8,-0.045) (45.05,-0.01) (45.3,0.04) (45.55,0.01) (45.8,-0.05) (46.05,0.01) (46.3,0.04) (46.55,-0.02) (46.8,-0.067) (47.05,0.01) (47.3,0.045) (47.55,-0.01) (47.8,-0.04) (48.05,0.02) (48.3,0.035) (48.55,-0.01) (48.8,-0.04) (49.05,0.01) (49.3,0.045) (49.55,-0.01) (49.8,-0.035) (50.05,0.02) (50.3,0.04) (50.55,-0.01) (50.8,-0.04) (51.05,0.01) (51.3,0.035) (51.55,-0.02) (51.8,-0.045) (52.05,0.01) (52.3,0.04) (52.55,0.01) (52.8,-0.035) (53.05,-0.01) (53.3,0.045) (53.55,0.01) (53.8,-0.04) (54.05,-0.01) (54.3,0.03) (54.55,-0.01) (54.8,-0.04) (55.05,0.02) (55.3,0.045) (55.55,-0.01) (55.8,-0.035) (56.05,0.01) (56.3,0.04) (56.55,-0.02) (56.8,-0.04) (57.05,0.01) (57.3,0.035) (57.8,-0.03) (58.3,0.04) (58.8,-0.04) (59.3,0.035) (59.8,-0.035) (60.3,0.04) (60.8,-0.04) (61.3,0.035) (61.8,-0.03) (62.3,0.04) (62.8,-0.035) (63.3,0.03) (63.8,-0.04) (64.3,0.035) (64.8,-0.03) (65.3,0.03) (65.8,-0.04) (66.3,0.03) (66.8,-0.03) (67.3,0.035) (67.8,-0.03) (68.3,0.03) (68.8,-0.025) (69.3,0.03) (69.8,-0.03) (70.3,0.025) (70.8,-0.03) (71.3,0.025) (71.8,-0.02) (72.3,0.03) (72.8,-0.025) (73.3,0.02) (73.8,-0.025) (74.3,0.025) (74.8,-0.02) (75.3,0.02) (75.8,-0.02) (76.3,0.02) (76.8,-0.018) (77.3,0.015) (77.8,-0.02) (78.3,0.015) (78.8,-0.015) (79.3,0.015) (79.8,-0.012) (80.3,0.012) (80.8,-0.015) (81.3,0.01) (81.8,-0.012) (82.3,0.01) (83,-0.04) (83.4,0.01) (83.8,-0.008) (84.3,0.008) (84.8,-0.006) (85.5,0.005) (86.5,-0.003) (87.5,0.002) (89,0)};
\legend{\EW,\NS}
\end{axis}
\begin{axis}[colc=119pt, r2, ymin=-20, ymax=20, ytick={-20,0,20}, yticklabels={-20,0,20}, leg={-2pt}{-3.1pt}]
\addplot[black] coordinates {(0,0) (5,0) (10,0) (15,-0.3) (20,-0.8) (22,-1) (24,-0.5) (26,-1) (27,0) (27.6,3) (28.4,4) (29.2,1) (30.2,-2) (31.2,1) (32.4,2) (33.1,-2) (33.8,-5) (34.4,0) (35.1,3) (35.6,-3) (36,-11) (36.5,-5) (36.9,8) (37.4,3) (37.8,-3) (38.3,-8) (38.7,-18) (39.2,-5) (39.6,5) (40,2) (40.5,-8) (41,0) (41.4,8) (41.9,3) (42.3,-5) (42.8,2) (43.2,10) (43.8,5) (44.4,13) (44.9,3) (45.4,-8) (45.8,0) (46.3,7) (47,0) (47.7,-5) (48.2,0) (48.6,5) (49.2,0) (49.7,-10) (50.2,-5) (50.8,3) (51.5,5) (52.1,8) (52.7,3) (53.3,-3) (53.9,2) (54.4,5) (55.1,0) (55.7,-8) (56.1,-5) (56.6,-11) (57.2,-3) (57.9,3) (58.6,0) (59.3,7) (60,2) (60.7,-5) (61.3,0) (62,7) (62.6,3) (63.3,0) (64,5) (64.7,8) (65.3,2) (66,-10) (66.7,-3) (67.4,3) (67.9,8) (68.5,12) (69,5) (69.6,-3) (70.3,0) (71,3) (71.6,0) (72.3,-5) (73,0) (73.7,5) (74.3,3) (75,8) (75.7,2) (76.4,-5) (77,-2) (77.7,2) (78.2,-3) (78.6,-9) (79.2,-6) (79.9,-3) (80.6,0) (81.3,2) (82,1) (82.6,4) (83.1,3) (83.5,3) (84.2,2.5) (84.9,3) (85.5,2) (86.2,1) (87,0.8) (88,0.5) (89,0)};
\addplot[red] coordinates {(0,0) (5,0) (10,-0.3) (12,-0.8) (14,-0.3) (16,-0.8) (18,-0.3) (20,-0.6) (22,-0.3) (24,-0.8) (26,-0.5) (27.5,0.5) (28.4,-1) (29.3,-1.5) (30,2) (30.6,5) (31.1,2) (31.5,0) (32.2,1) (32.9,2) (33.5,-1) (34.2,-3) (34.9,0) (35.6,2) (36.1,-2) (36.5,-5) (37,3) (37.4,13) (37.9,3) (38.3,-9) (38.8,0) (39.2,10) (39.7,5) (40.1,-5) (40.6,0) (41,5) (41.5,0) (41.9,-7) (42.4,-2) (42.8,3) (43.5,0) (44.1,-8) (44.8,-3) (45.4,5) (46.1,0) (46.8,-5) (47.5,-2) (48.1,2) (48.8,5) (49.5,10) (50,2) (50.4,-8) (51.1,-3) (51.7,3) (52.4,0) (53,-7) (53.7,-2) (54.4,5) (55.1,2) (55.7,-3) (56.4,3) (57.1,10) (57.8,3) (58.4,-8) (59.1,-3) (59.8,2) (60.4,0) (61.1,-5) (61.8,0) (62.5,7) (63.1,2) (63.8,-8) (64.5,-3) (65.2,3) (65.9,0) (66.5,-3) (67.2,3) (67.9,8) (68.5,2) (69.2,-5) (69.9,-1) (70.6,3) (71.3,0) (71.9,-9) (72.6,-3) (73.3,5) (73.9,2) (74.6,-3) (75.3,2) (76,7) (76.6,2) (77.3,-5) (77.9,-2) (78.6,2) (79.3,3) (79.9,5) (80.4,0) (80.8,-3) (81.5,2) (82.2,6) (82.6,5) (83.1,3) (83.8,0) (84.5,-4) (85.1,-2) (85.8,-1) (86.7,0) (87.6,0.5) (89,0)};
\legend{\EW,\NS}
\end{axis}
\begin{axis}[colc=43pt, r3, ymin=-15, ymax=15, ytick={-15,0,15}, yticklabels={-15,0,15}, leg={0pt}{0.6pt}]
\addplot[black] coordinates {(0,0) (3,0) (6,-0.3) (10.5,-0.8) (14.9,-1.2) (19.4,-1) (23.9,-1.5) (27.9,-1.5) (29.3,0.5) (30.2,2) (31.5,3) (32.9,3) (34.2,4) (35.4,5) (36.5,7) (37,3) (37.4,0) (38.1,-2) (38.7,-3) (39.6,-1) (40.5,-3) (41.2,0) (41.8,2) (42.7,-2) (43.6,-1) (44.5,-1) (45.4,1) (46.3,3) (47,5) (47.7,6) (48.4,7) (49,7) (49.9,6) (50.8,-1) (51.7,-5) (52.6,-2) (53.3,1) (54,2) (54.9,1) (55.5,0) (56.2,-2) (57.1,-6) (58,-9) (58.7,-8) (59.3,-8) (59.9,-10) (60.5,-8) (61.1,-6) (61.8,-4) (62.5,-3) (63.1,-2) (63.8,-1) (64.5,-2) (65.2,-2) (65.8,1) (66.5,4) (67,2) (67.4,1) (68.3,0) (69,3) (69.7,6) (70.6,6) (71.5,6) (72.4,5.5) (73.3,5) (74.4,2) (75.5,4) (76.2,5) (76.9,6) (77.6,7) (78.2,8) (78.9,5) (79.5,2) (80.2,0) (80.9,-3) (81.5,-4) (82.2,-6) (83.3,-7) (84.4,-8) (85.1,-6) (85.8,-4) (86.7,-2) (87.6,0) (89,0)};
\addplot[red] coordinates {(0,0) (5,0) (6,0.5) (10.5,0.5) (14.9,0.8) (17,1) (19.4,1.3) (21,1.4) (23,1.4) (24.5,1) (25.7,0.5) (27.9,-0.3) (29.3,-1) (30.6,-2) (31.5,-1.5) (32.4,-1) (33.8,-1.5) (35.4,-3) (36.2,-4) (36.9,-4.5) (37.6,-2) (38.3,1) (39,2) (39.6,3) (40.5,1) (41.4,-1) (42,0) (42.7,2) (43.4,2.5) (44.1,3) (44.8,2) (45.4,1) (46.3,-1) (47.2,-3) (48.1,-3) (49,-3) (49.7,0) (50.4,3) (51.3,2) (52,-1) (52.6,-4) (53.5,-5) (54.4,-7) (55,-5) (55.7,-3) (56.4,0) (57.1,4) (57.7,7) (58.4,10) (58.9,9) (59.3,9) (60,7) (60.7,5) (61.3,2) (62,0) (62.7,-1) (63.4,-2) (64,-3) (64.7,-3) (65.4,-2) (66.1,-3) (66.6,-4) (67,-5) (67.6,-2) (68.3,0) (69,0.5) (69.7,1) (70.3,0) (71,-1) (71.7,1) (72.4,2) (73,-1) (73.3,-4) (74,-3) (74.6,-1) (75.3,3) (76,7) (76.7,3) (77.4,0) (78,-2) (78.7,-4) (79.4,-5) (80.1,-6) (80.8,-5) (81.4,-3) (82.1,-1) (82.8,2) (83.4,4) (84,5.5) (84.6,5) (85.1,4) (85.8,3) (86.5,1) (87.6,0) (89,0)};
\addplot[blue, forget plot] coordinates {(87.2,0) (89,0)};
\legend{\EW,\NS}
\end{axis}
% ================= texts =================
\begin{scope}[every node/.style={inner sep=0pt}]
\node[anchor=base, font=\fontsize{12}{14}\selectfont] at (131.75pt,261.6pt) {NP ground motion};
\node[anchor=base, font=\fontsize{12}{14}\selectfont] at (353.5pt,261.6pt) {NN ground motion};
\node[anchor=base, font=\fontsize{12}{14}\selectfont] at (593pt,261.6pt) {FF ground motion};
\node[rotate=90, anchor=base, font=\fontsize{9.5}{11}\selectfont] at (14.25pt,231pt) {Acceleration(g)};
\node[rotate=90, anchor=base, font=\fontsize{9.5}{11}\selectfont] at (14.25pt,154.5pt) {Velocity(cm/s)};
\node[rotate=90, anchor=base, font=\fontsize{9.5}{11}\selectfont] at (14.5pt,70pt) {Displacement(cm)};
\node[rotate=90, anchor=base, font=\fontsize{9.5}{11}\selectfont] at (247.5pt,228.5pt) {Acceleration(g)};
\node[rotate=90, anchor=base, font=\fontsize{9.5}{11}\selectfont] at (248pt,155.5pt) {Velocity(cm/s)};
\node[rotate=90, anchor=base, font=\fontsize{9.5}{11}\selectfont] at (248.5pt,71.5pt) {Displacement(cm)};
\node[rotate=90, anchor=base, font=\fontsize{9.5}{11}\selectfont] at (480.5pt,226.5pt) {Acceleration(g)};
\node[rotate=90, anchor=base, font=\fontsize{9.5}{11}\selectfont] at (480.5pt,154.5pt) {Velocity(cm/s)};
\node[rotate=90, anchor=base, font=\fontsize{9.5}{11}\selectfont] at (481pt,74pt) {Displacement(cm)};
\node[anchor=base, font=\fontsize{10}{12}\selectfont] at (136pt,20.5pt) {T(s)};
\node[anchor=base, font=\fontsize{10}{12}\selectfont] at (363.5pt,20.5pt) {T(s)};
\node[anchor=base, font=\fontsize{10}{12}\selectfont] at (600.5pt,20.5pt) {T(s)};
\node[anchor=base, font=\fontsize{12}{14}\selectfont] at (116.5pt,5pt) {(\textbf{a})};
\node[anchor=base, font=\fontsize{12}{14}\selectfont] at (351pt,5pt) {(\textbf{b})};
\node[anchor=base, font=\fontsize{12}{14}\selectfont] at (585pt,5pt) {(\textbf{c})};
\end{scope}
\end{tikzpicture}
\end{document}
